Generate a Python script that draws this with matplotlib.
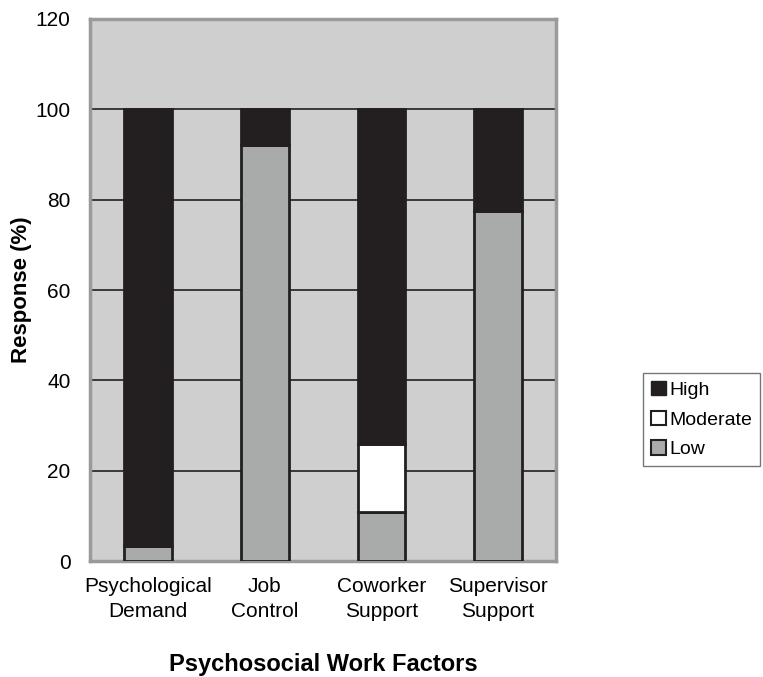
"""
Stacked bars: psychosocial work factor responses (High / Moderate / Low)
"""

import numpy as np
import matplotlib.pyplot as plt
from matplotlib.patches import Patch

plt.rcParams['font.family'] = ['Liberation Sans', 'DejaVu Sans']

# Data (percent of responses)
factors = ['Psychological\nDemand', 'Job\nControl', 'Coworker\nSupport', 'Supervisor\nSupport']
low = [3.3, 92.0, 10.9, 77.5]
moderate = [0.0, 0.0, 15.0, 0.0]
high = [96.7, 8.0, 74.1, 22.5]

dark = '#231f20'
grey = '#a9abaa'
panel = '#cfcfcf'

fig = plt.figure(figsize=(7.63, 6.77), dpi=100)
ax = fig.add_axes([0.118, 0.171, 0.611, 0.801])
ax.set_facecolor(panel)

x = np.arange(len(factors))
w = 0.41
bottom_mod = np.array(low)
bottom_high = bottom_mod + np.array(moderate)

ax.bar(x, low, w, color=grey, edgecolor=dark, linewidth=2, zorder=3)
ax.bar(x, moderate, w, bottom=bottom_mod, color='white', edgecolor=dark, linewidth=2, zorder=3)
ax.bar(x, high, w, bottom=bottom_high, color=dark, edgecolor=dark, linewidth=2, zorder=3)

# Formatting
ax.set_xlim(-0.5, 3.5)
ax.set_ylim(0, 120)
ax.set_yticks(range(0, 121, 20))
ax.set_xticks(x)
ax.set_xticklabels(factors, fontsize=15, linespacing=1.45)
ax.tick_params(axis='both', length=0, labelsize=15, colors='black')
ax.tick_params(axis='x', pad=11)
ax.tick_params(axis='y', pad=14)
ax.yaxis.grid(True, color=dark, linewidth=1.2, zorder=1)
ax.set_axisbelow(True)
for s in ax.spines.values():
    s.set_color('#9a9a9a')
    s.set_linewidth(2.5)

ax.set_ylabel('Response (%)', fontsize=16, fontweight='bold')
ax.yaxis.set_label_coords(-0.125, 0.5)
ax.set_xlabel('Psychosocial Work Factors', fontsize=17, fontweight='bold')
ax.xaxis.set_label_coords(0.5, -0.17)

handles = [Patch(facecolor=dark, edgecolor=dark, label='High'),
           Patch(facecolor='white', edgecolor=dark, linewidth=1.5, label='Moderate'),
           Patch(facecolor=grey, edgecolor=dark, linewidth=1.5, label='Low')]
leg = fig.legend(handles=handles, loc='center left', bbox_to_anchor=(0.843, 0.380),
                 fontsize=14, frameon=True, fancybox=False, handlelength=0.75,
                 handleheight=0.75, handletextpad=0.2, borderpad=0.4,
                 labelspacing=0.6, borderaxespad=0)
leg.get_frame().set_edgecolor('#555555')
leg.get_frame().set_linewidth(1.0)

plt.savefig('out.png', dpi=100)
plt.close()
